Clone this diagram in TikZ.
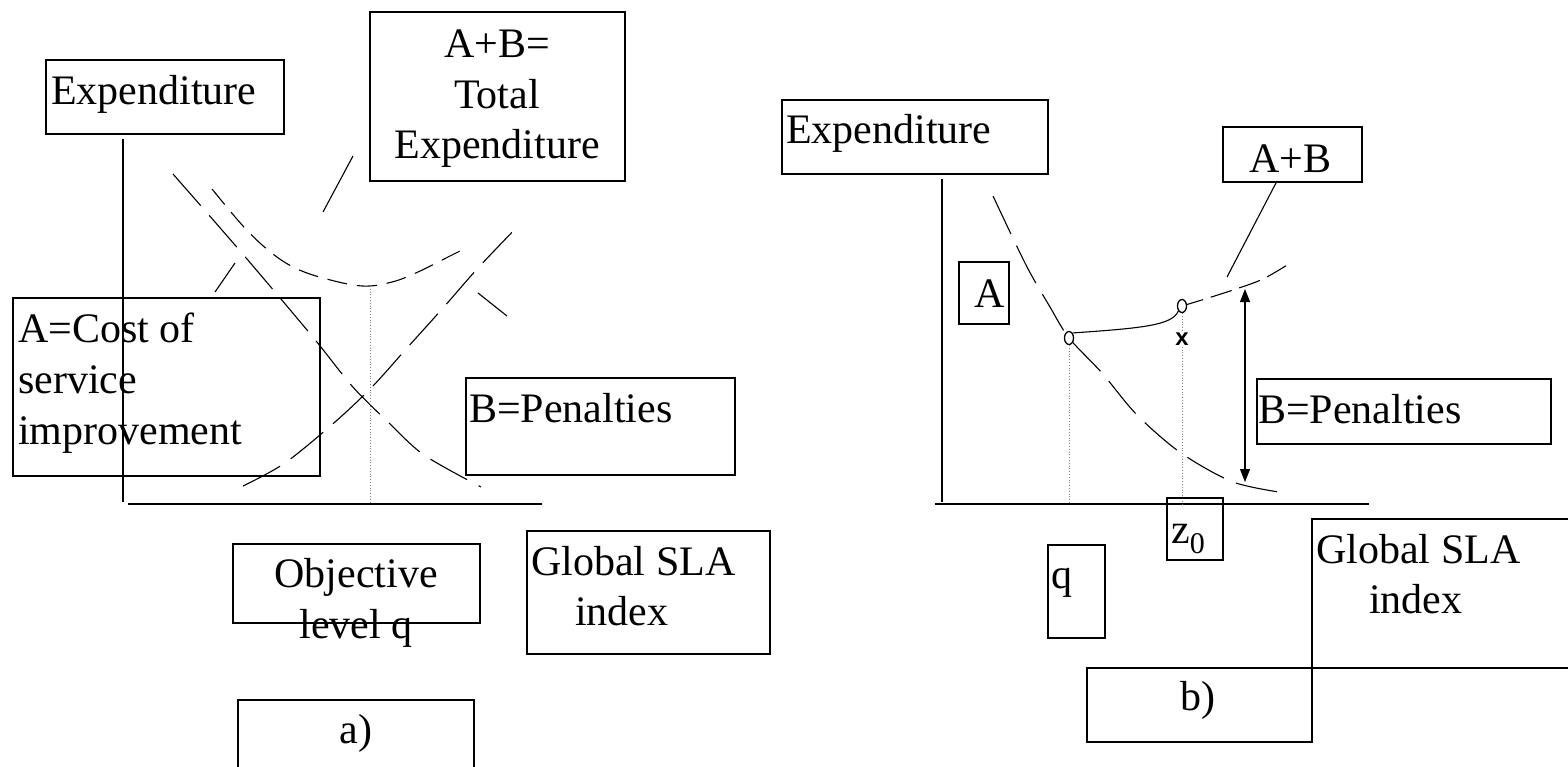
\documentclass[tikz,border=0pt]{standalone}
\usepackage{fontspec}
\setmainfont{Liberation Serif}
\newfontfamily\sansx{Liberation Sans}
\usetikzlibrary{arrows.meta,shapes.geometric}
\begin{document}
\begin{tikzpicture}[x=1pt,y=-1pt,
  box/.style={draw, line width=1.6pt, inner sep=0pt, anchor=north west},
  txt/.style={inner sep=0pt, font=\fontsize{42}{50}\selectfont},
  axisline/.style={line width=1.8pt},
  longdash/.style={line width=1.1pt, dash pattern=on 42pt off 13pt},
  shortdash/.style={line width=1.1pt, dash pattern=on 20pt off 10pt},
  abdash/.style={line width=1.1pt, dash pattern=on 22pt off 8pt},
  leader/.style={line width=1.1pt},
  guide/.style={line width=0.8pt, dotted, gray},
  dotmark/.style={draw, ellipse, line width=1.3pt, fill=white, inner sep=0pt, minimum width=9pt, minimum height=13pt}
]
\useasboundingbox (0,0) rectangle (1568,766);

% ---------------- left panel ----------------
\node[box, minimum width=238pt, minimum height=74pt] (expL) at (45,59) {};
\node[txt, anchor=base west] (expLt) at (51,104) {Expenditure};

\node[box, minimum width=255pt, minimum height=169pt] (totL) at (369,11) {};
\node[txt, anchor=base] (totL1) at (497,57) {A+B=};
\node[txt, anchor=base] (totL2) at (497,108) {Total};
\node[txt, anchor=base] (totL3) at (497,158) {Expenditure};

% axes
\coordinate (yLt) at (123,139);
\coordinate (yLb) at (123,502);
\coordinate (xLl) at (128,504);
\coordinate (xLr) at (542,504);
\draw[axisline] (yLt) -- (yLb);
\draw[axisline] (xLl) -- (xLr);

% curves
\draw[longdash] plot[smooth, tension=0.5] coordinates {(173,174) (241,252) (312,336) (352,386) (388,422) (424,455) (481,487)};
\draw[longdash] plot[smooth, tension=0.5] coordinates {(243,486) (285,463) (335,422) (372,387) (407,348) (443,308) (478,268) (518,226)};
\draw[shortdash] plot[smooth, tension=0.6] coordinates {(212,189) (243,226) (268,250) (293,267) (323,278) (362,286) (392,282) (418,272) (446,258) (464,249)};

\coordinate (minL) at (370,286);
\coordinate (minLb) at (370,502);
\draw[guide] (minL) -- (minLb);

% leaders
\coordinate (ldTa) at (353,156); \coordinate (ldTb) at (323,212);
\coordinate (ldAa) at (215,292); \coordinate (ldAb) at (235,263);
\coordinate (ldBa) at (478,293); \coordinate (ldBb) at (507,316);
\draw[leader] (ldTa) -- (ldTb);
\draw[leader] (ldAa) -- (ldAb);
\draw[leader] (ldBa) -- (ldBb);

\node[box, minimum width=307pt, minimum height=178pt] (costL) at (12,297) {};
\node[txt, anchor=base west] (costL1) at (18,342) {A=Cost of};
\node[txt, anchor=base west] (costL2) at (18,393) {service};
\node[txt, anchor=base west] (costL3) at (18,444) {improvement};

\node[box, minimum width=269pt, minimum height=97pt] (penL) at (465,377) {};
\node[txt, anchor=base west] (penLt) at (469,422) {B=Penalties};

\node[box, minimum width=247pt, minimum height=79pt] (objL) at (232,543) {};
\node[txt, anchor=base] (objL1) at (356,587) {Objective};
\node[txt, anchor=base] (objL2) at (356,638) {level q};

\node[box, minimum width=243pt, minimum height=123pt] (slaL) at (526,530) {};
\node[txt, anchor=base west] (slaL1) at (531,575) {Global SLA};
\node[txt, anchor=base west] (slaL2) at (575,625) {index};

\node[box, minimum width=236pt, minimum height=101pt] (aL) at (237,699) {};
\node[txt, anchor=base] (aLt) at (356,743) {a)};

% ---------------- right panel ----------------
\node[box, minimum width=266pt, minimum height=74pt] (expR) at (781,99) {};
\node[txt, anchor=base west] (expRt) at (786,143) {Expenditure};

\coordinate (yRt) at (942,179);
\coordinate (yRb) at (942,502);
\coordinate (xRl) at (935,504);
\coordinate (xRr) at (1369,504);
\draw[axisline] (yRt) -- (yRb);
\draw[axisline] (xRl) -- (xRr);

\node[box, minimum width=50pt, minimum height=62pt] (aR) at (958,261) {};
\node[txt, anchor=base] (aRt) at (990,307) {A};

\node[box, minimum width=139pt, minimum height=55pt] (abR) at (1222,126) {};
\node[txt, anchor=base west] (abRt) at (1249,172) {A+B};

% curves
\draw[longdash] plot[smooth, tension=0.5] coordinates {(993,196) (1026,265) (1050,307) (1069,338) (1102,373) (1137,415) (1181,453) (1233,482) (1285,493)};
\draw[abdash] plot[smooth, tension=0.5] coordinates {(1182,306) (1205,299) (1233,290) (1263,279) (1292,262)};

\node[dotmark] (c1) at (1069,338) {};
\node[dotmark] (c2) at (1182,306) {};
\draw[line width=1.1pt] (c1.north east) .. controls (1145,328) and (1172,325) .. (c2.south west);

\coordinate (c1b) at (1069,504);
\coordinate (c2b) at (1182,504);
\draw[guide] (c1.south) -- (c1b);
\draw[guide] (c2.south) -- (c2b);
\node[inner sep=0.5pt, anchor=base, font=\sansx\bfseries\fontsize{24}{26}\selectfont, fill=white] (xm) at (1182,345) {x};

\coordinate (ldRa) at (1277,181);
\coordinate (ldRb) at (1227,277);
\draw[leader] (ldRa) -- (ldRb);

\coordinate (arT) at (1245,289);
\coordinate (arB) at (1245,482);
\draw[line width=1.1pt, {Triangle[length=13pt,width=10pt]}-{Triangle[length=13pt,width=10pt]}] (arT) -- (arB);

\node[box, minimum width=294pt, minimum height=65pt] (penR) at (1256,378) {};
\node[txt, anchor=base west] (penRt) at (1258,423) {B=Penalties};

\node[box, minimum width=56pt, minimum height=62pt] (z0) at (1166,497) {};
\node[txt, anchor=base west] (z0t) at (1171,543) {z\raisebox{-10pt}{\fontsize{30}{32}\selectfont 0}};

\node[box, minimum width=57pt, minimum height=93pt] (qR) at (1047,544) {};
\node[txt, anchor=base west] (qRt) at (1051,588) {q};

\node[box, minimum width=300pt, minimum height=149pt] (slaR) at (1311,518) {};
\node[txt, anchor=base west] (slaR1) at (1316,563) {Global SLA};
\node[txt, anchor=base west] (slaR2) at (1369,613) {index};

\node[box, minimum width=225pt, minimum height=74pt] (bR) at (1086,667) {};
\node[txt, anchor=base] (bRt) at (1198,710) {b)};
\end{tikzpicture}
\end{document}
